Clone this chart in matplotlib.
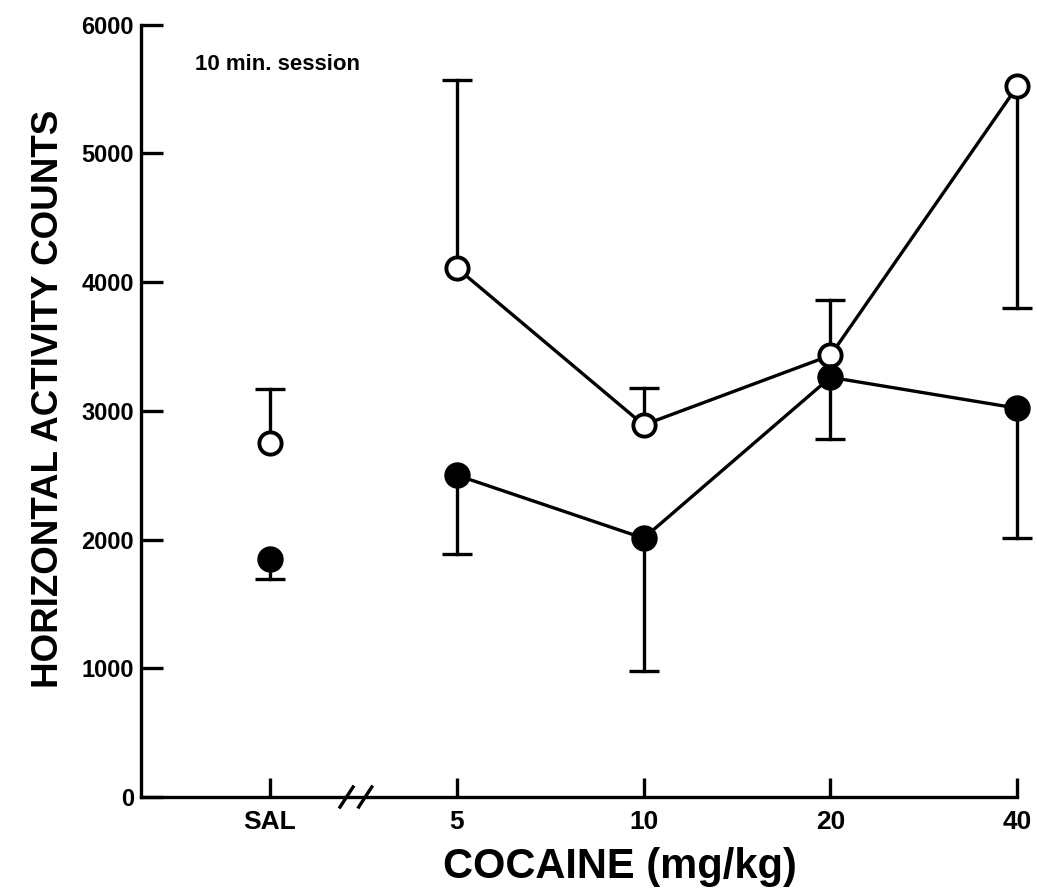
import matplotlib
matplotlib.use("Agg")
import matplotlib.pyplot as plt
import matplotlib.transforms as mtransforms
import numpy as np

plt.rcParams['font.family'] = ['Liberation Sans', 'DejaVu Sans']
plt.rcParams['font.weight'] = 'bold'

# dose groups, evenly spaced on the x axis
doses = ["SAL", "5", "10", "20", "40"]
xpos = np.arange(len(doses))

# open circles: means and one-sided error ends
open_mean = [2750, 4110, 2890, 3430, 5520]
open_err_end = [3170, 5570, 3180, 3860, 3800]

# filled circles: means and lower error ends
filled_mean = [1850, 2500, 2010, 3260, 3020]
filled_err_end = [1690, 1890, 980, 2780, 2010]

fig = plt.figure(figsize=(10.37, 8.93), dpi=100)
ax = fig.add_axes([0.136, 0.1075, 0.845, 0.865])

lw = 2.4

def draw_errs(x, mean, ends):
    for xi, m, e in zip(x, mean, ends):
        ax.plot([xi, xi], [m, e], color='black', lw=lw, zorder=2, clip_on=False)
        ax.plot([xi], [e], marker='_', markersize=21, mew=lw, color='black',
                zorder=2, clip_on=False)

draw_errs(xpos, open_mean, open_err_end)
draw_errs(xpos, filled_mean, filled_err_end)

# saline point stands alone, doses joined by lines
ax.plot(xpos[1:], open_mean[1:], color='black', lw=lw, zorder=3, clip_on=False)
ax.plot(xpos[1:], filled_mean[1:], color='black', lw=lw, zorder=3, clip_on=False)

ax.plot(xpos, open_mean, 'o', ms=16, mfc='white', mec='black', mew=2.8,
        linestyle='none', zorder=4, clip_on=False)
ax.plot(xpos, filled_mean, 'o', ms=18, mfc='black', mec='black',
        linestyle='none', zorder=4, clip_on=False)

ax.set_xlim(-0.69, 4.0)
ax.set_ylim(0, 6000)

ax.spines['top'].set_visible(False)
ax.spines['right'].set_visible(False)
ax.spines['left'].set_linewidth(2.4)
ax.spines['bottom'].set_linewidth(2.4)

ax.set_yticks([0, 1000, 2000, 3000, 4000, 5000, 6000])
ax.set_xticks(xpos)
ax.set_xticklabels(doses)
ax.tick_params(axis='y', direction='in', length=16, width=2.4, labelsize=17, pad=5)
ax.tick_params(axis='x', direction='in', length=14, width=2.4, labelsize=19, pad=9)

ax.set_ylabel("HORIZONTAL ACTIVITY COUNTS", fontsize=26.5, fontweight='bold',
              labelpad=11, y=0.516)
ax.set_xlabel("COCAINE (mg/kg)", fontsize=30, fontweight='bold', labelpad=10, x=0.547)

ax.text(0.062, 0.948, "10 min. session", transform=ax.transAxes,
        fontsize=16, fontweight='bold', va='center', ha='left')

# axis break marks between saline and the first dose
trans = mtransforms.blended_transform_factory(ax.transData, ax.transAxes)
for xb in (0.41, 0.51):
    ax.plot([xb - 0.035, xb + 0.035], [-0.013, 0.013], color='black', lw=2.4,
            transform=trans, clip_on=False)

fig.savefig("out.png", dpi=100)
